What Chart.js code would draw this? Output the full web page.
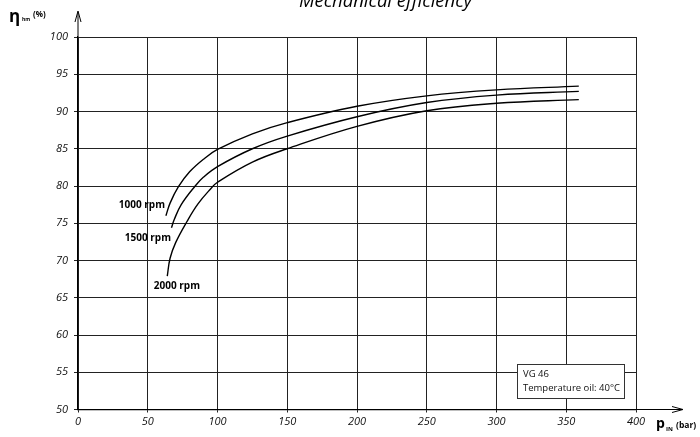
<!DOCTYPE html>
<html>
<head>
<meta charset="utf-8">
<script src="https://cdn.jsdelivr.net/npm/chart.js@4"></script>
<style>
  html, body { margin: 0; padding: 0; background: #fff; }
  #wrap { width: 700px; height: 437px; position: relative; }
</style>
</head>
<body>
<div id="wrap"><canvas id="effChart"></canvas></div>
<script>
// =========================
// DATA
// =========================
const xTicks = [0, 50, 100, 150, 200, 250, 300, 350, 400];
const yTicks = [50, 55, 60, 65, 70, 75, 80, 85, 90, 95, 100];

const rpm1000X = [63, 66, 72, 80, 90, 100, 125, 150, 200, 250, 300, 359];
const rpm1000Y = [76.0, 77.7, 79.9, 81.9, 83.6, 84.9, 87.0, 88.5, 90.7, 92.1, 92.9, 93.4];

const rpm1500X = [67, 69, 74, 84, 90, 100, 125, 150, 200, 250, 300, 359];
const rpm1500Y = [74.4, 75.5, 77.5, 80.0, 81.2, 82.6, 85.0, 86.7, 89.3, 91.2, 92.2, 92.7];

const rpm2000X = [64, 66, 70, 78, 86, 95, 100, 125, 150, 200, 250, 300, 359];
const rpm2000Y = [67.9, 70.3, 72.4, 75.2, 77.6, 79.6, 80.5, 83.2, 85.0, 88.0, 90.1, 91.1, 91.6];

const curveLabels = ["1000 rpm", "1500 rpm", "2000 rpm"];
const noteLines = ["VG 46", "Temperature oil: 40°C"];

const FONT = "'Open Sans', 'Noto Sans', sans-serif";

const toPoints = (xs, ys) => xs.map((x, i) => ({ x, y: ys[i] }));

// =========================
// EXTRA DRAWING (arrows, title, labels, note box)
// =========================
const decorPlugin = {
    id: "decor",
    afterDraw(chart) {
        const ctx = chart.ctx;
        const area = chart.chartArea;
        ctx.save();

        // axis extensions with arrows
        ctx.strokeStyle = "#000";
        ctx.lineWidth = 1;
        ctx.beginPath();
        ctx.moveTo(area.left, area.top);
        ctx.lineTo(area.left, 12);
        ctx.moveTo(area.right, area.bottom);
        ctx.lineTo(682, area.bottom);
        ctx.stroke();
        ctx.beginPath();
        ctx.moveTo(area.left - 3, 22);
        ctx.lineTo(area.left, 11);
        ctx.lineTo(area.left + 3, 22);
        ctx.moveTo(672, area.bottom - 3);
        ctx.lineTo(683, area.bottom);
        ctx.lineTo(672, area.bottom + 3);
        ctx.stroke();

        // title
        ctx.fillStyle = "#000";
        ctx.font = "italic 18.5px " + FONT;
        ctx.textAlign = "left";
        ctx.textBaseline = "alphabetic";
        ctx.fillText("Mechanical efficiency", 299, 7);

        // y axis title
        ctx.font = "bold 17px " + FONT;
        ctx.fillText("η", 9, 22);
        ctx.font = "bold 5px " + FONT;
        ctx.fillText("hm", 22, 21);
        ctx.font = "bold 8px " + FONT;
        ctx.fillText("(%)", 33, 17);

        // x axis title
        ctx.font = "bold 14px " + FONT;
        ctx.fillText("p", 656, 428);
        ctx.font = "bold 6px " + FONT;
        ctx.fillText("IN", 666, 431);
        ctx.font = "bold 8.5px " + FONT;
        ctx.fillText("(bar)", 676, 428);

        // curve labels
        ctx.font = "bold 10px " + FONT;
        ctx.textAlign = "right";
        ctx.textBaseline = "middle";
        ctx.fillText(curveLabels[0], 165, 205);
        ctx.fillText(curveLabels[1], 171, 238);
        ctx.fillText(curveLabels[2], 200, 286);

        // note box
        const bx = 517, by = 364, bw = 107, bh = 34;
        ctx.fillStyle = "#fff";
        ctx.fillRect(bx, by, bw, bh);
        ctx.strokeStyle = "#333";
        ctx.strokeRect(bx + 0.5, by + 0.5, bw, bh);
        ctx.fillStyle = "#111";
        ctx.font = "9.5px " + FONT;
        ctx.textAlign = "left";
        ctx.fillText(noteLines[0], bx + 6, by + 10);
        ctx.fillText(noteLines[1], bx + 6, by + 24);

        ctx.restore();
    }
};

const lineStyle = {
    borderColor: "#000",
    borderWidth: 1.4,
    pointRadius: 0,
    showLine: true,
    fill: false,
    tension: 0.4
};

new Chart(document.getElementById("effChart"), {
    type: "scatter",
    data: {
        datasets: [
            { label: curveLabels[0], data: toPoints(rpm1000X, rpm1000Y), ...lineStyle },
            { label: curveLabels[1], data: toPoints(rpm1500X, rpm1500Y), ...lineStyle },
            { label: curveLabels[2], data: toPoints(rpm2000X, rpm2000Y), ...lineStyle }
        ]
    },
    options: {
        responsive: true,
        maintainAspectRatio: false,
        animation: false,
        layout: { padding: { left: 0, top: 37, right: 64, bottom: 0 } },
        plugins: {
            legend: { display: false },
            tooltip: { enabled: false }
        },
        scales: {
            x: {
                type: "linear",
                min: 0,
                max: 400,
                afterBuildTicks(s) { s.ticks = xTicks.map(v => ({ value: v })); },
                afterFit(s) { s.height = 27.5; },
                border: { color: "#000", width: 1.2 },
                grid: { color: "#222", lineWidth: 1, tickLength: 3 },
                ticks: {
                    color: "#111",
                    padding: 3,
                    maxRotation: 0,
                    font: { family: FONT, size: 11, style: "italic" }
                }
            },
            y: {
                type: "linear",
                min: 50,
                max: 100,
                afterBuildTicks(s) { s.ticks = yTicks.map(v => ({ value: v })); },
                afterFit(s) { s.width = 78; },
                border: { color: "#000", width: 1.2 },
                grid: { color: "#222", lineWidth: 1, tickLength: 4 },
                ticks: {
                    color: "#111",
                    padding: 6,
                    font: { family: FONT, size: 11, style: "italic" }
                }
            }
        }
    },
    plugins: [decorPlugin]
});
</script>
</body>
</html>
